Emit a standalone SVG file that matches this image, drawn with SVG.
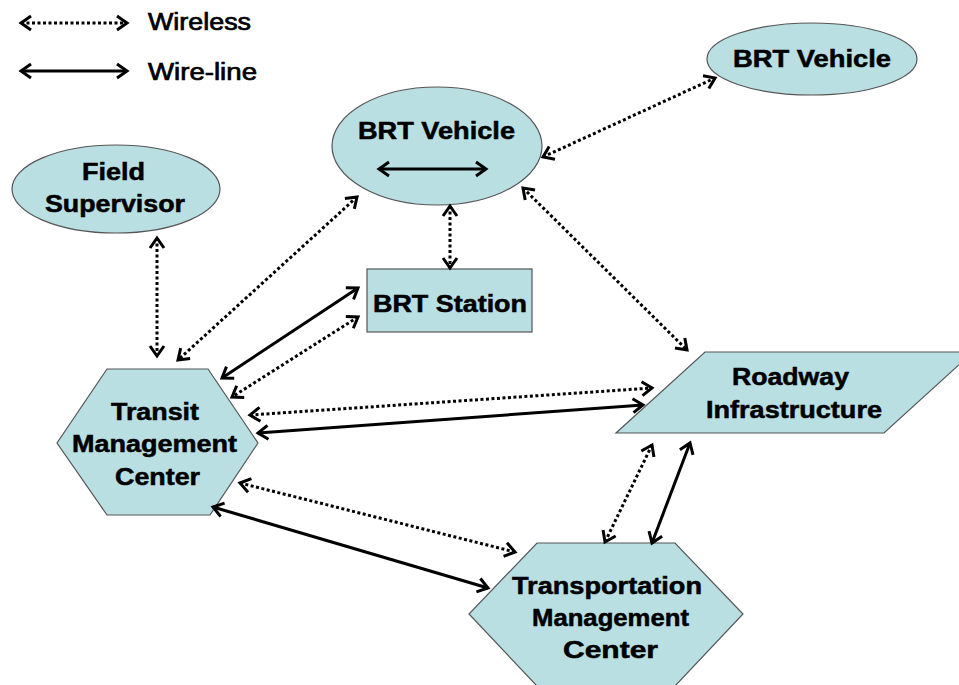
<svg xmlns="http://www.w3.org/2000/svg" width="959" height="685" viewBox="0 0 959 685">
<style>
.node{fill:#b9dfe3;stroke:#555;stroke-width:1.2}
.lbl{font-family:"Liberation Sans",Arial,sans-serif;font-weight:bold;font-size:23px;fill:#000;stroke:#000;stroke-width:0.5}
.leg{font-family:"Liberation Sans",Arial,sans-serif;font-size:23px;fill:#000;stroke:#000;stroke-width:0.7}
.wl{fill:none;stroke:#000;stroke-width:3;stroke-dasharray:3 2.5;marker-start:url(#ah);marker-end:url(#ah)}
.wr{fill:none;stroke:#000;stroke-width:3;marker-start:url(#ah);marker-end:url(#ah)}
</style>
<defs>
<marker id="ah" markerUnits="userSpaceOnUse" viewBox="-14 -10 17 20" refX="0" refY="0" markerWidth="17" markerHeight="20" orient="auto-start-reverse" overflow="visible">
<path d="M-10,-7 L0,0 L-10,7" fill="none" stroke="#000" stroke-width="3" stroke-linejoin="miter"/>
</marker>
</defs>
<rect width="959" height="685" fill="#fff"/>
<g id="legend">
<line class="wl" x1="21" y1="23" x2="127" y2="23"/>
<line class="wr" x1="21" y1="71" x2="127" y2="71"/>
<text class="leg" x="148" y="30" textLength="103" lengthAdjust="spacingAndGlyphs">Wireless</text>
<text class="leg" x="148" y="80" textLength="109" lengthAdjust="spacingAndGlyphs">Wire-line</text>
</g>
<g id="node-field-supervisor">
<ellipse class="node" cx="116" cy="189" rx="104" ry="44"/>
<text class="lbl" x="82" y="180" textLength="63" lengthAdjust="spacingAndGlyphs">Field</text>
<text class="lbl" x="45" y="212" textLength="140" lengthAdjust="spacingAndGlyphs">Supervisor</text>
</g>
<g id="node-brt-vehicle-center">
<ellipse class="node" cx="437" cy="146" rx="105" ry="59"/>
<text class="lbl" x="358" y="139" textLength="157" lengthAdjust="spacingAndGlyphs">BRT Vehicle</text>
<line class="wr" x1="379" y1="169" x2="486" y2="169"/>
</g>
<g id="node-brt-vehicle-right">
<ellipse class="node" cx="812" cy="59" rx="105" ry="36"/>
<text class="lbl" x="733" y="67" textLength="158" lengthAdjust="spacingAndGlyphs">BRT Vehicle</text>
</g>
<g id="node-brt-station">
<rect class="node" x="367" y="269" width="165" height="63"/>
<text class="lbl" x="373" y="312" textLength="154" lengthAdjust="spacingAndGlyphs">BRT Station</text>
</g>
<g id="node-transit-mc">
<polygon class="node" points="107,369 208,369 258,443 210,515 107,515 57,443"/>
<text class="lbl" x="111" y="420" textLength="88" lengthAdjust="spacingAndGlyphs">Transit</text>
<text class="lbl" x="72" y="452" textLength="165" lengthAdjust="spacingAndGlyphs">Management</text>
<text class="lbl" x="115" y="485" textLength="85" lengthAdjust="spacingAndGlyphs">Center</text>
</g>
<g id="node-roadway">
<polygon class="node" points="705,352 973,352 884,433 616,433"/>
<text class="lbl" x="732" y="385" textLength="117" lengthAdjust="spacingAndGlyphs">Roadway</text>
<text class="lbl" x="706" y="418" textLength="176" lengthAdjust="spacingAndGlyphs">Infrastructure</text>
</g>
<g id="node-transportation-mc">
<polygon class="node" points="537,543 675,543 743,614 675,686 537,686 469,614"/>
<text class="lbl" x="512" y="594" textLength="190" lengthAdjust="spacingAndGlyphs">Transportation</text>
<text class="lbl" x="532" y="626" textLength="157" lengthAdjust="spacingAndGlyphs">Management</text>
<text class="lbl" x="563" y="658" textLength="95" lengthAdjust="spacingAndGlyphs">Center</text>
</g>
<g id="connectors">
<line class="wl" x1="157" y1="238" x2="157" y2="356"/>
<line class="wl" x1="357" y1="197" x2="178" y2="360"/>
<line class="wr" x1="358" y1="288" x2="222" y2="378"/>
<line class="wl" x1="358" y1="317" x2="232" y2="397"/>
<line class="wl" x1="450" y1="206" x2="450" y2="268"/>
<line class="wl" x1="543" y1="157" x2="715" y2="78"/>
<line class="wl" x1="523" y1="188" x2="687" y2="350"/>
<line class="wl" x1="250" y1="415" x2="652" y2="388"/>
<line class="wr" x1="258" y1="433" x2="643" y2="405"/>
<line class="wl" x1="240" y1="483" x2="515" y2="552"/>
<line class="wr" x1="213" y1="507" x2="488" y2="588"/>
<line class="wl" x1="652" y1="445" x2="605" y2="542"/>
<line class="wr" x1="690" y1="443" x2="652" y2="543"/>
</g>
</svg>
